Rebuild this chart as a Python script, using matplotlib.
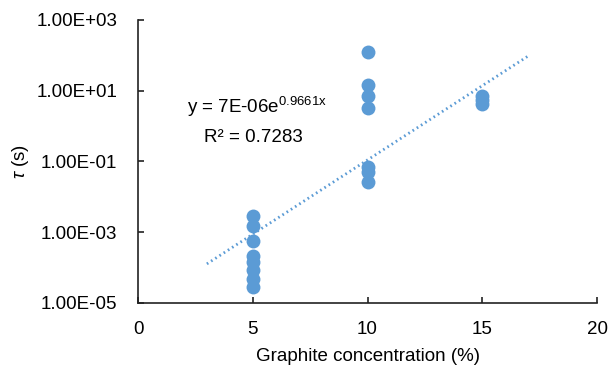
import matplotlib
matplotlib.use("Agg")
import matplotlib.pyplot as plt
from matplotlib.ticker import FixedLocator, FuncFormatter
import numpy as np

plt.rcParams['font.family'] = ['Liberation Sans', 'DejaVu Sans']
plt.rcParams['mathtext.fontset'] = 'custom'
plt.rcParams['mathtext.rm'] = 'Liberation Sans'
plt.rcParams['mathtext.it'] = 'Liberation Sans:italic'

# graphite concentration (%) and relaxation time tau (s)
conc_5 = [5, 5, 5, 5, 5, 5, 5, 5]
tau_5 = [2.9e-3, 1.5e-3, 5.7e-4, 2.1e-4, 1.4e-4, 8.5e-5, 4.8e-5, 2.9e-5]
conc_10 = [10, 10, 10, 10, 10, 10, 10]
tau_10 = [125, 14.5, 7.1, 3.2, 0.070, 0.051, 0.026]
conc_15 = [15, 15, 15]
tau_15 = [7.0, 5.5, 4.3]

# exponential trendline from the chart label
fit_a = 7e-06
fit_b = 0.9661
fit_r2 = 0.7283
fit_range = [3, 17]

yticks = [1e-5, 1e-3, 1e-1, 1e1, 1e3]
xticks = [0, 5, 10, 15, 20]

blue = '#5B9BD5'
fs = 13.5

fig = plt.figure(figsize=(6.08, 3.74), dpi=100)
ax = fig.add_axes([0.227, 0.190, 0.755, 0.757])

x = conc_5 + conc_10 + conc_15
y = tau_5 + tau_10 + tau_15
ax.plot(x, y, 'o', color=blue, markersize=10, markeredgewidth=0, zorder=3)

xs = np.linspace(fit_range[0], fit_range[1], 200)
ax.plot(xs, fit_a * np.exp(fit_b * xs), color=blue, linestyle=(0, (0.6, 1.2)),
        linewidth=2, zorder=2)

ax.set_yscale('log')
ax.set_xlim(0, 20)
ax.set_ylim(1e-5, 1e3)
ax.xaxis.set_major_locator(FixedLocator(xticks))
ax.yaxis.set_major_locator(FixedLocator(yticks))
ax.yaxis.set_minor_locator(FixedLocator([]))
ax.yaxis.set_major_formatter(FuncFormatter(lambda v, p: ('%.2E' % v)))

for s in ['top', 'right']:
    ax.spines[s].set_visible(False)
for s in ['left', 'bottom']:
    ax.spines[s].set_linewidth(1.2)
    ax.spines[s].set_color('#222222')

ax.tick_params(axis='both', direction='in', length=4, width=1.2, color='#222222',
               labelsize=fs, labelcolor='black')
ax.tick_params(axis='y', pad=15)
ax.tick_params(axis='x', pad=13)

ax.set_xlabel('Graphite concentration (%)', fontsize=fs, labelpad=7)
ax.set_ylabel(r'$\tau$ (s)', fontsize=fs, labelpad=4)

ax.text(2.13, 3.5, r'y = 7E-06e$^{\mathrm{0.9661x}}$', fontsize=fs, ha='left', va='center')
ax.text(2.88, 0.47, 'R² = %.4f' % fit_r2, fontsize=fs, ha='left', va='center')

fig.savefig('out.png', dpi=100)
